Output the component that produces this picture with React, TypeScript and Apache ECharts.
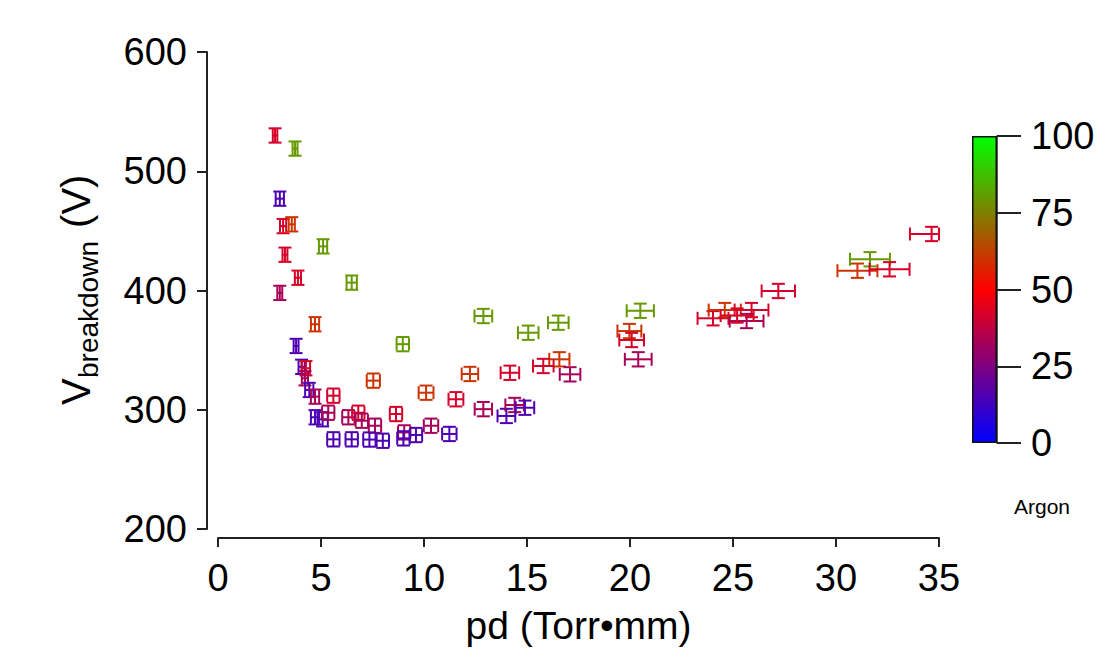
import React, { useEffect, useRef } from "react";
import * as echarts from "echarts";

// pd (Torr·mm), breakdown voltage (V), argon fraction (%), pd uncertainty (Torr·mm)
const pdValues = [
  2.77, 3.74, 3.0, 3.16, 3.58, 3.25, 5.1, 3.88, 6.49, 3.0,
  4.71, 3.79, 8.97, 4.06, 4.27, 4.22, 4.43, 4.71, 5.6, 7.54,
  10.1, 11.55, 12.23, 12.88, 4.71, 5.08, 5.35, 6.33, 6.81, 6.98,
  7.62, 8.64, 9.04, 9.0, 10.34, 9.61, 11.23, 5.6, 6.49, 7.35,
  8.0, 12.88, 15.06, 16.52, 20.5, 19.97, 20.08, 20.4, 16.57, 15.79,
  17.09, 14.17, 14.0, 14.4, 14.9, 31.04, 31.65, 32.6, 34.64, 27.2,
  24.03, 24.6, 25.9, 25.66, 25.2,
];
const breakdownVolts = [
  530, 519, 477, 454, 455.5, 430, 437, 410.7, 406.6, 398,
  371.7, 353.5, 355, 336, 334.8, 326.4, 316.6, 311, 311.8, 324.4,
  314.3, 308.8, 330, 300.5, 293.7, 292, 297.5, 293.7, 297.5, 290.8,
  286.6, 296.4, 281, 276, 286.6, 278.8, 279.7, 275.2, 275.2, 275,
  274, 378.6, 364.6, 373, 383, 366, 358.5, 342.3, 342.3, 336.7,
  329.7, 331, 294.8, 304, 301.7, 416.6, 426.2, 417.8, 447.4, 399.6,
  376.7, 383.6, 383.6, 374.4, 379,
];
const argonPercent = [
  42, 80, 15, 42, 60, 42, 80, 42, 80, 33,
  60, 15, 80, 15, 42, 33, 15, 33, 42, 60,
  60, 42, 60, 33, 15, 15, 33, 33, 42, 33,
  33, 42, 33, 15, 33, 15, 15, 15, 15, 15,
  15, 80, 80, 80, 80, 60, 42, 33, 60, 42,
  33, 42, 15, 33, 15, 60, 80, 42, 42, 42,
  42, 60, 42, 33, 42,
];
const pdErrors = [
  0.11, 0.12, 0.2, 0.15, 0.15, 0.12, 0.2, 0.15, 0.25, 0.12,
  0.2, 0.12, 0.3, 0.15, 0.2, 0.15, 0.2, 0.2, 0.3, 0.32,
  0.36, 0.36, 0.4, 0.42, 0.2, 0.25, 0.3, 0.3, 0.3, 0.3,
  0.3, 0.3, 0.3, 0.3, 0.35, 0.3, 0.35, 0.3, 0.3, 0.3,
  0.3, 0.43, 0.5, 0.5, 0.66, 0.58, 0.6, 0.65, 0.49, 0.5,
  0.5, 0.45, 0.43, 0.45, 0.45, 0.97, 0.97, 0.97, 1.05, 0.81,
  0.75, 0.78, 0.82, 0.82, 0.8,
];
const VOLT_ERROR = 6;

const xTicks = { min: 0, max: 35, interval: 5 };
const yTicks = { min: 200, max: 600, interval: 100 };
const colorbarTicks = { min: 0, max: 100, interval: 25 };

const FONT = "'Liberation Sans', Arial, Helvetica, sans-serif";

export default function App() {
  const ref = useRef<HTMLDivElement>(null);

  useEffect(() => {
    if (!ref.current) return;
    const chart = echarts.init(ref.current, undefined, { renderer: "svg" });

    const data = pdValues.map((pd, i) => [
      pd,
      breakdownVolts[i],
      argonPercent[i],
      pdErrors[i],
      VOLT_ERROR,
    ]);

    const CAP = 6.5;

    const option: any = {
      animation: false,
      backgroundColor: "#ffffff",
      textStyle: { fontFamily: FONT },
      grid: [
        { left: 218, right: 177, top: 52, bottom: 131, containLabel: false },
        { left: 972, width: 25, top: 136, height: 307, containLabel: false },
      ],
      xAxis: [
        {
          type: "value",
          gridIndex: 0,
          min: xTicks.min,
          max: xTicks.max,
          interval: xTicks.interval,
          offset: 9,
          name: "pd (Torr•mm)",
          nameLocation: "middle",
          nameGap: 68,
          nameTextStyle: { fontSize: 39, color: "#000", fontFamily: FONT },
          axisLine: { show: true, onZero: false, lineStyle: { color: "#222", width: 2 } },
          axisTick: { show: true, inside: false, length: 9, lineStyle: { color: "#222", width: 2 } },
          axisLabel: { fontSize: 38, color: "#000", margin: 21, fontFamily: FONT },
          splitLine: { show: false },
        },
        {
          type: "category",
          gridIndex: 1,
          data: ["Argon"],
          show: false,
        },
      ],
      yAxis: [
        {
          type: "value",
          gridIndex: 0,
          min: yTicks.min,
          max: yTicks.max,
          interval: yTicks.interval,
          offset: 11,
          axisLine: { show: true, onZero: false, lineStyle: { color: "#222", width: 2 } },
          axisTick: { show: true, inside: false, length: 10, lineStyle: { color: "#222", width: 2 } },
          axisLabel: { fontSize: 38, color: "#000", margin: 20, fontFamily: FONT },
          splitLine: { show: false },
        },
        {
          type: "value",
          gridIndex: 1,
          position: "right",
          min: colorbarTicks.min,
          max: colorbarTicks.max,
          interval: colorbarTicks.interval,
          axisLine: { show: true, lineStyle: { color: "#222", width: 1.5 } },
          axisTick: { show: true, inside: false, length: 24, lineStyle: { color: "#222", width: 2 } },
          axisLabel: { fontSize: 38, color: "#000", margin: 34, fontFamily: FONT },
          splitLine: { show: false },
        },
      ],
      visualMap: {
        show: false,
        type: "continuous",
        seriesIndex: 0,
        dimension: 2,
        min: colorbarTicks.min,
        max: colorbarTicks.max,
        inRange: { color: ["#0000ff", "#ff0000", "#00ff00"] },
      },
      series: [
        {
          type: "custom",
          xAxisIndex: 0,
          yAxisIndex: 0,
          data,
          encode: { x: 0, y: 1 },
          clip: false,
          renderItem: (params: any, api: any) => {
            const x = api.value(0);
            const y = api.value(1);
            const xe = api.value(3);
            const ye = api.value(4);
            const c = api.coord([x, y]);
            const xl = api.coord([x - xe, y])[0];
            const xr = api.coord([Math.min(x + xe, xTicks.max), y])[0];
            const yt = api.coord([x, y + ye])[1];
            const yb = api.coord([x, y - ye])[1];
            const color = api.visual("color");
            const style = { stroke: color, lineWidth: 2, fill: "none" };
            const line = (x1: number, y1: number, x2: number, y2: number) => ({
              type: "line",
              shape: { x1, y1, x2, y2 },
              style,
            });
            return {
              type: "group",
              children: [
                line(xl, c[1], xr, c[1]),
                line(xl, c[1] - CAP, xl, c[1] + CAP),
                line(xr, c[1] - CAP, xr, c[1] + CAP),
                line(c[0], yt, c[0], yb),
                line(c[0] - CAP, yt, c[0] + CAP, yt),
                line(c[0] - CAP, yb, c[0] + CAP, yb),
              ],
            };
          },
        },
        {
          type: "bar",
          xAxisIndex: 1,
          yAxisIndex: 1,
          data: [colorbarTicks.max],
          barWidth: "100%",
          silent: true,
          itemStyle: {
            borderColor: "#111",
            borderWidth: 1.5,
            color: new echarts.graphic.LinearGradient(0, 0, 0, 1, [
              { offset: 0, color: "#00ff00" },
              { offset: 0.5, color: "#ff0000" },
              { offset: 1, color: "#0000ff" },
            ]),
          },
        },
      ],
      graphic: [
        {
          type: "group",
          x: 56,
          y: 405,
          rotation: Math.PI / 2,
          children: [
            {
              type: "text",
              x: 0,
              y: 0,
              style: {
                text: "V",
                fontSize: 40,
                fontFamily: FONT,
                fill: "#000",
                textAlign: "left",
                textVerticalAlign: "top",
              },
            },
            {
              type: "text",
              x: 27,
              y: 18,
              style: {
                text: "breakdown",
                fontSize: 28,
                fontFamily: FONT,
                fill: "#000",
                textAlign: "left",
                textVerticalAlign: "top",
              },
            },
            {
              type: "text",
              x: 166,
              y: 0,
              style: {
                text: " (V)",
                fontSize: 40,
                fontFamily: FONT,
                fill: "#000",
                textAlign: "left",
                textVerticalAlign: "top",
              },
            },
          ],
        },
        {
          type: "text",
          left: 1014,
          top: 496,
          style: {
            text: "Argon",
            fontSize: 21,
            fontFamily: FONT,
            fill: "#000",
          },
        },
      ],
    };

    chart.setOption(option);
    return () => chart.dispose();
  }, []);

  return (
    <div
      ref={ref}
      style={{ position: "fixed", left: 0, top: 0, width: 1116, height: 660, background: "#fff" }}
    />
  );
}
